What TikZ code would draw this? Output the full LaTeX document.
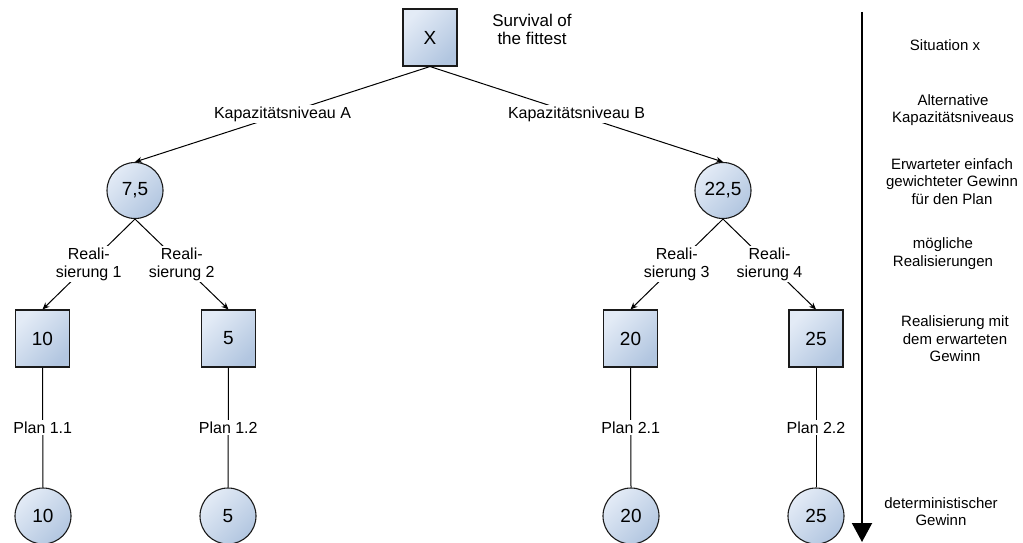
\documentclass[tikz,border=0pt]{standalone}
\usepackage{fontspec}
\setmainfont{Liberation Sans}
\usetikzlibrary{arrows.meta}
\definecolor{boxlight}{HTML}{E3EBF6}
\definecolor{boxdark}{HTML}{B2C6E0}
\definecolor{outline}{HTML}{1A1A1A}
\begin{document}
\begin{tikzpicture}[x=1pt,y=-1pt,
  valuebox/.style={rectangle, draw=outline, line width=1.1pt, minimum width=54pt,
    minimum height=57pt, inner sep=0pt, top color=boxlight, bottom color=boxdark,
    shading angle=45, font=\fontsize{19}{21}\selectfont},
  valuecirc/.style={circle, draw=outline, line width=1.1pt, minimum size=56pt,
    inner sep=0pt, top color=boxlight, bottom color=boxdark,
    shading angle=45, font=\fontsize{19}{21}\selectfont},
  link/.style={line width=1pt, draw=black},
  arrowlink/.style={link, -{Stealth[length=7pt,width=6pt]}},
  edgelabel/.style={fill=white, inner sep=1.5pt, align=center,
    font=\fontsize{16}{18}\selectfont},
  sidenote/.style={align=center, font=\fontsize{15}{17.5}\selectfont}
]
\useasboundingbox (0,0) rectangle (1023,543);

% root situation
\node[valuebox] (root) at (430,37.5) {X};
\node[align=center, font=\fontsize{17}{18}\selectfont] (motto) at (532,29) {Survival of\\the fittest};

% expected profit per capacity level
\node[valuecirc] (expA) at (135,190.5) {7,5};
\node[valuecirc] (expB) at (723,190.5) {22,5};

% realisations
\node[valuebox] (r1) at (42.5,338.5) {10};
\node[valuebox] (r2) at (228.5,338.5) {5};
\node[valuebox] (r3) at (630.5,338.5) {20};
\node[valuebox] (r4) at (816,338.5) {25};

% deterministic profit
\node[valuecirc] (d1) at (43,516) {10};
\node[valuecirc] (d2) at (228,516) {5};
\node[valuecirc] (d3) at (631,516) {20};
\node[valuecirc] (d4) at (816,516) {25};

% connectors
\draw[arrowlink] (root.south) -- node[edgelabel]{Kapazitätsniveau A} (expA.north);
\draw[arrowlink] (root.south) -- node[edgelabel]{Kapazitätsniveau B} (expB.north);
\draw[arrowlink] (expA.south) -- node[edgelabel]{Reali-\\sierung 1} (r1.north);
\draw[arrowlink] (expA.south) -- node[edgelabel]{Reali-\\sierung 2} (r2.north);
\draw[arrowlink] (expB.south) -- node[edgelabel]{Reali-\\sierung 3} (r3.north);
\draw[arrowlink] (expB.south) -- node[edgelabel]{Reali-\\sierung 4} (r4.north);
\draw[link] (r1.south) -- node[edgelabel]{Plan 1.1} (d1.north);
\draw[link] (r2.south) -- node[edgelabel]{Plan 1.2} (d2.north);
\draw[link] (r3.south) -- node[edgelabel]{Plan 2.1} (d3.north);
\draw[link] (r4.south) -- node[edgelabel]{Plan 2.2} (d4.north);

% time axis with level descriptions
\coordinate (axtop) at (862,12);
\coordinate (axbot) at (862,542);
\draw[line width=2pt, -{Triangle[length=19pt,width=20pt]}] (axtop) -- (axbot);

\node[sidenote] (n1) at (945,45) {Situation x};
\node[sidenote] (n2) at (953,110) {Alternative\\Kapazitätsniveaus};
\node[sidenote] (n3) at (952,181.5) {Erwarteter einfach\\gewichteter Gewinn\\für den Plan};
\node[sidenote] (n4) at (943,253.5) {mögliche\\Realisierungen};
\node[sidenote] (n5) at (955,339) {Realisierung mit\\dem erwarteten\\Gewinn};
\node[sidenote] (n6) at (941,511.5) {deterministischer\\Gewinn};
\end{tikzpicture}
\end{document}
